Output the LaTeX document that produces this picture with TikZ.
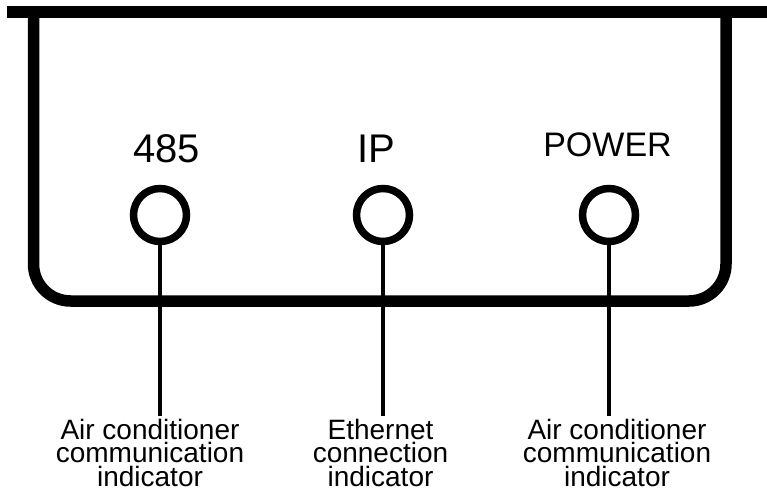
\documentclass[tikz,border=0pt]{standalone}
\usepackage{fontspec}
\setmainfont{Liberation Sans}
\begin{document}
\begin{tikzpicture}[x=1pt, y=-1pt,
	lamp/.style = {shape=circle, draw, line width=7.5pt,
		minimum size=53pt, inner sep=0pt},
	tag/.style = {anchor=base, inner sep=0pt, font=\fontsize{40}{40}\selectfont},
	note/.style = {anchor=north, inner sep=0pt, align=center,
		font=\fontsize{28}{23.5}\selectfont},
	wire/.style = {line width=3.5pt}]
	\useasboundingbox (0,0) rectangle (767,494);
	% housing
	\draw[line width=11.5pt, rounded corners=37pt] (33.5,12) -- (33.5,301) -- (726,301) -- (726,12);
	\draw[line width=12pt] (7,12) -- (767,12);
	% indicators
	\node[lamp] (l485) at (160,215) {};
	\node[lamp] (lip) at (383,215) {};
	\node[lamp] (lpow) at (609,215) {};
	\node[tag] (t485) at (166.5,163) {485};
	\node[tag] (tip) at (376.5,163) {IP};
	\node[tag, font=\fontsize{34}{34}\selectfont] (tpow) at (607.5,157) {POWER};
	\coordinate (e485) at (160,416);
	\coordinate (eip) at (383,416);
	\coordinate (epow) at (609,416);
	\draw[wire] (l485.south) -- (e485);
	\draw[wire] (lip.south) -- (eip);
	\draw[wire] (lpow.south) -- (epow);
	\node[note] (n485) at (150,419) {Air conditioner\\communication\\indicator};
	\node[note] (nip) at (380.5,419) {Ethernet\\connection\\indicator};
	\node[note] (npow) at (617,419) {Air conditioner\\communication\\indicator};
\end{tikzpicture}
\end{document}
